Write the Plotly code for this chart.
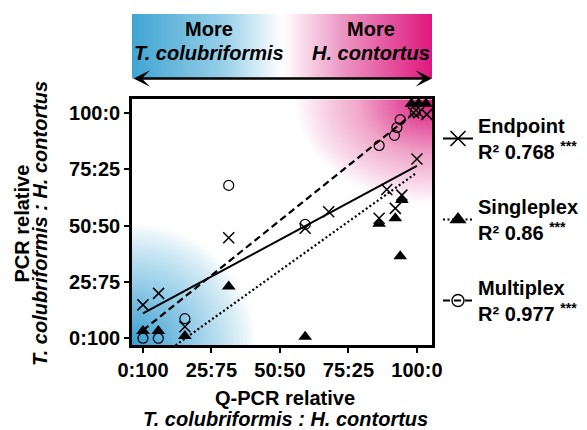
import numpy as np
import plotly.graph_objects as go

# ---------------- data ----------------
tick_vals = [0, 25, 50, 75, 100]
tick_text = ["0:100", "25:75", "50:50", "75:25", "100:0"]

endpoint_x = [0, 5.7, 15.3, 31.3, 59.2, 67.8, 86.2, 89.0, 92.1, 94.5, 100.0, 98.8, 100.6, 103.6]
endpoint_y = [14.8, 19.9, 5.1, 44.6, 48.8, 56.1, 53.2, 66.0, 57.6, 63.5, 79.5, 100.0, 100.0, 99.3]

single_x = [0, 5.6, 15.3, 31.3, 59.2, 86.2, 92.1, 93.9, 94.5, 98.0, 100.6, 103.3]
single_y = [3.2, 3.2, 1.0, 22.9, 0.7, 50.8, 53.2, 36.4, 61.3, 104.0, 104.0, 104.0]

multi_x = [0, 5.6, 15.3, 31.3, 59.2, 86.2, 91.8, 92.7, 93.9, 99.4]
multi_y = [0, 0, 8.7, 67.8, 50.5, 85.5, 90.0, 93.5, 97.0, 100.5]

# regression fits: slope, intercept, x start, x end
endpoint_fit = [0.655, 11.0, 0.0, 100.0]
single_fit = [0.87, -13.5, 11.9, 100.0]
multi_fit = [0.975, 3.5, 0.0, 99.0]

series_names = ["Endpoint", "Singleplex", "Multiplex"]
series_r2 = ["0.768", "0.86", "0.977"]
series_sig = ["***", "***", "***"]

bar_labels_top = ["More", "More"]
bar_labels_species = ["T. colubriformis", "H. contortus"]
x_title = ["Q-PCR relative", "T. colubriformis : H. contortus"]
y_title = ["PCR relative", "T. colubriformis : H. contortus"]

# ---------------- layout helpers ----------------
W, H = 587, 430
ML, MR, MT, MB = 132, 155, 14, 85
PW, PH = W - ML - MR, H - MT - MB
XR = [-4, 105.5]
YR = [-3, 106]


def px_x(px):
    return (px - ML) / PW


def px_y(py):
    return (H - MB - py) / PH


FONT = "Liberation Sans, Arial, sans-serif"

fig = go.Figure()

# background gradient (blue bottom-left, pink top-right)
gx = np.linspace(XR[0], XR[1], 180)
gy = np.linspace(YR[0], YR[1], 180)
GX, GY = np.meshgrid(gx, gy)
pink = np.clip(1 - np.hypot((XR[1] - GX) / 50, (YR[1] - GY) / 46), 0, 1) ** 0.9
blue = np.clip(1 - np.hypot((GX - XR[0]) / 45, (GY - YR[0]) / 54), 0, 1) ** 0.85
GZ = pink - blue
bg_scale = [[0, "rgb(58,158,208)"], [0.25, "rgb(160,210,234)"], [0.5, "rgb(255,255,255)"],
            [0.75, "rgb(240,165,202)"], [1, "rgb(218,22,124)"]]
fig.add_trace(go.Heatmap(x=gx, y=gy, z=GZ, zmin=-1, zmax=1, colorscale=bg_scale,
                         showscale=False, zsmooth="best", hoverinfo="skip", showlegend=False))

# top gradient bar
bx = np.linspace(XR[0], XR[1], 300)
bz = np.linspace(-1, 1, 300)
bar_scale = [[0, "rgb(64,165,210)"], [0.3, "rgb(150,206,232)"], [0.5, "rgb(255,255,255)"],
             [0.7, "rgb(236,150,195)"], [1, "rgb(222,22,125)"]]
fig.add_trace(go.Heatmap(x=bx, y=[0, 1], z=[bz, bz], zmin=-1, zmax=1, colorscale=bar_scale,
                         showscale=False, zsmooth="best", hoverinfo="skip", showlegend=False,
                         xaxis="x2", yaxis="y2"))

# regression lines
line_styles = [dict(color="black", width=2), dict(color="black", width=2.2, dash="2px,2.5px"),
               dict(color="black", width=2.2, dash="7px,4px")]
for fit, ls in zip([endpoint_fit, single_fit, multi_fit], line_styles):
    xs = np.array([fit[2], fit[3]])
    ys = fit[1] + fit[0] * xs
    fig.add_trace(go.Scatter(x=xs, y=ys, mode="lines", line=ls, showlegend=False,
                             hoverinfo="skip"))

# points
mk_end = dict(symbol="x-thin-open", size=11, color="black", line=dict(width=1.5, color="black"))
mk_single = dict(symbol="triangle-up", size=12, color="black", line=dict(width=0))
mk_multi = dict(symbol="circle-open", size=10, color="black", line=dict(width=1.2, color="black"))
fig.add_trace(go.Scatter(x=endpoint_x, y=endpoint_y, mode="markers", marker=mk_end,
                         showlegend=False, cliponaxis=False))
fig.add_trace(go.Scatter(x=single_x, y=single_y, mode="markers", marker=mk_single,
                         showlegend=False, cliponaxis=False))
fig.add_trace(go.Scatter(x=multi_x, y=multi_y, mode="markers", marker=mk_multi,
                         showlegend=False, cliponaxis=False))

# legend entries
leg_markers = [dict(symbol="x-thin-open", size=15, color="black", line=dict(width=1.6, color="black")),
               dict(symbol="triangle-up", size=15, color="black", line=dict(width=0)),
               dict(symbol="circle-open", size=12, color="black", line=dict(width=1.4, color="black"))]
for i, (nm, r2, sg, mk, ls) in enumerate(zip(series_names, series_r2, series_sig, leg_markers, line_styles)):
    fig.add_trace(go.Scatter(x=[None], y=[None], mode="lines+markers", marker=mk, line=ls,
                             name=f"{nm}<br>R² {r2} <sup>{sg}</sup>", legendgroup=f"g{i}",
                             showlegend=True))

ann = []
tf = dict(family=FONT, size=20, color="black", weight="bold")
for lbl, sp, cx in zip(bar_labels_top, bar_labels_species, [209, 371]):
    ann.append(dict(x=px_x(cx), y=px_y(29), xref="paper", yref="paper", text=lbl,
                    showarrow=False, font=tf, xanchor="center", yanchor="middle"))
    ann.append(dict(x=px_x(cx), y=px_y(53), xref="paper", yref="paper", text=f"<i>{sp}</i>",
                    showarrow=False, font=tf, xanchor="center", yanchor="middle"))
# double arrow under the bar
ann.append(dict(x=1, y=px_y(78.5), xref="paper", yref="paper", text="", showarrow=True,
                ax=-PW, ay=0, arrowside="end+start", arrowhead=3, startarrowhead=3,
                arrowsize=1.1, startarrowsize=1.1, arrowwidth=2.5, arrowcolor="black"))
# axis titles
ann.append(dict(x=px_x(285), y=px_y(398), xref="paper", yref="paper", text=x_title[0],
                showarrow=False, font=tf, xanchor="center", yanchor="middle"))
ann.append(dict(x=px_x(285), y=px_y(419), xref="paper", yref="paper", text=f"<i>{x_title[1]}</i>",
                showarrow=False, font=tf, xanchor="center", yanchor="middle"))
ann.append(dict(x=px_x(21.5), y=px_y(224), xref="paper", yref="paper", text=y_title[0],
                showarrow=False, font=tf, xanchor="center", yanchor="middle", textangle=-90))
ann.append(dict(x=px_x(40), y=px_y(224), xref="paper", yref="paper", text=f"<i>{y_title[1]}</i>",
                showarrow=False, font=tf, xanchor="center", yanchor="middle", textangle=-90))

axis_common = dict(tickvals=tick_vals, ticktext=tick_text, ticks="outside", ticklen=5, tickwidth=2,
                   tickcolor="black", showline=True, mirror=True, linewidth=2.5, linecolor="black",
                   showgrid=False, zeroline=False, tickfont=dict(family=FONT, size=20, color="black", weight="bold"))

fig.update_layout(
    width=W, height=H,
    margin=dict(l=ML, r=MR, t=MT, b=MB, autoexpand=False),
    paper_bgcolor="white", plot_bgcolor="white",
    font=dict(family=FONT, size=20, color="black", weight="bold"),
    xaxis=dict(domain=[0, 1], range=XR, anchor="y", **axis_common),
    yaxis=dict(domain=[0, px_y(99.3)], range=YR, anchor="x", **axis_common),
    xaxis2=dict(domain=[0, 1], range=XR, anchor="y2", visible=False),
    yaxis2=dict(domain=[px_y(78.5), 1], range=[0, 1], anchor="x2", visible=False),
    showlegend=True,
    legend=dict(x=px_x(438), y=px_y(106), xanchor="left", yanchor="top", traceorder="grouped",
                tracegroupgap=26, bgcolor="rgba(0,0,0,0)", itemsizing="trace",
                font=dict(family=FONT, size=20, color="black", weight="bold")),
    annotations=ann,
)

fig.write_html("out.html", config={"displayModeBar": False},
               post_script="document.body.style.margin='0px';")
